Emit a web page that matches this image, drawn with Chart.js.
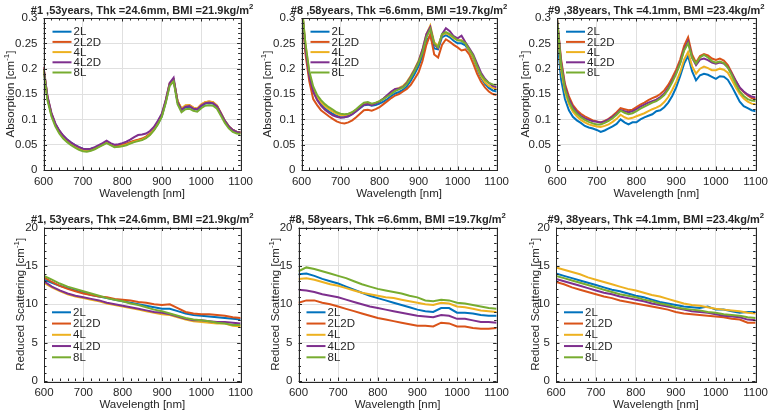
<!DOCTYPE html>
<html>
<head>
<meta charset="utf-8">
<script src="https://cdn.jsdelivr.net/npm/chart.js@4.4.0/dist/chart.umd.min.js"></script>
<style>
  html, body { margin: 0; padding: 0; background: #fff; }
  #wrap { position: relative; width: 773px; height: 413px; overflow: hidden; }
  #wrap canvas { position: absolute; }
</style>
</head>
<body>
<div id="wrap"></div>
<script>
// wavelengths (nm)
const wlAbs = [600,610,620,630,640,650,660,670,680,690,700,710,720,730,740,750,760,770,780,790,
  800,810,820,830,840,850,860,870,880,890,900,910,920,930,940,950,960,970,980,990,
  1000,1010,1020,1030,1040,1050,1060,1070,1080,1090,1100];
const wlSca = [600,620,640,660,680,700,720,740,760,780,800,820,840,860,880,900,920,940,960,980,
  1000,1020,1040,1060,1080,1100];

const seriesNames = ["2L", "2L2D", "4L", "4L2D", "8L"];

// tick values / labels
const wlTicks = [600, 700, 800, 900, 1000, 1100];
const wlTickLabels = ["600", "700", "800", "900", "1000", "1100"];
const absTicks = [0, 0.05, 0.1, 0.15, 0.2, 0.25, 0.3];
const absTickLabels = ["0", "0.05", "0.1", "0.15", "0.2", "0.25", "0.3"];
const scaTicks = [0, 5, 10, 15, 20];
const scaTickLabels = ["0", "5", "10", "15", "20"];

const panelTitles = [
  "#1 ,53years, Thk =24.6mm, BMI =21.9kg/m",
  "#8 ,58years, Thk =6.6mm, BMI =19.7kg/m",
  "#9 ,38years, Thk =4.1mm, BMI =23.4kg/m",
  "#1, 53years, Thk =24.6mm, BMI =21.9kg/m",
  "#8, 58years, Thk =6.6mm, BMI =19.7kg/m",
  "#9, 38years, Thk =4.1mm, BMI =23.4kg/m"
];

// ---- absorption, #1 ----
const abs1_2L = [0.200,0.142,0.110,0.090,0.077,0.067,0.060,0.054,0.049,0.045,
  0.042,0.041,0.042,0.044,0.047,0.051,0.056,0.051,0.048,0.048,
  0.050,0.052,0.055,0.057,0.059,0.061,0.065,0.071,0.079,0.091,
  0.106,0.134,0.168,0.177,0.134,0.118,0.124,0.125,0.121,0.119,
  0.126,0.131,0.132,0.131,0.125,0.111,0.097,0.086,0.079,0.075,0.074];
const abs1_2L2D = [0.202,0.144,0.112,0.091,0.077,0.067,0.059,0.053,0.048,0.044,
  0.041,0.040,0.041,0.043,0.047,0.051,0.056,0.051,0.047,0.048,
  0.050,0.052,0.055,0.058,0.060,0.062,0.066,0.072,0.080,0.093,
  0.108,0.136,0.170,0.178,0.136,0.121,0.127,0.128,0.123,0.121,
  0.129,0.134,0.135,0.134,0.127,0.112,0.097,0.086,0.079,0.075,0.074];
const abs1_4L = [0.203,0.143,0.110,0.089,0.075,0.065,0.058,0.052,0.047,0.043,
  0.039,0.038,0.039,0.042,0.046,0.050,0.055,0.050,0.046,0.046,
  0.048,0.050,0.053,0.056,0.058,0.060,0.064,0.070,0.079,0.092,
  0.108,0.136,0.171,0.178,0.137,0.121,0.128,0.128,0.123,0.121,
  0.129,0.134,0.135,0.134,0.127,0.112,0.097,0.086,0.079,0.075,0.074];
const abs1_4L2D = [0.204,0.146,0.113,0.092,0.078,0.068,0.060,0.054,0.049,0.045,
  0.042,0.041,0.042,0.045,0.049,0.053,0.058,0.053,0.050,0.051,
  0.053,0.056,0.060,0.065,0.069,0.070,0.072,0.077,0.085,0.097,
  0.111,0.138,0.172,0.182,0.135,0.119,0.125,0.126,0.121,0.120,
  0.127,0.132,0.133,0.132,0.126,0.112,0.097,0.086,0.079,0.075,0.074];
const abs1_8L = [0.198,0.138,0.106,0.086,0.072,0.062,0.055,0.049,0.044,0.040,
  0.037,0.036,0.038,0.041,0.045,0.049,0.053,0.049,0.045,0.046,
  0.047,0.049,0.052,0.055,0.057,0.059,0.063,0.069,0.078,0.090,
  0.105,0.132,0.166,0.175,0.130,0.114,0.120,0.121,0.117,0.115,
  0.122,0.127,0.128,0.127,0.121,0.107,0.093,0.082,0.075,0.072,0.071];

// ---- absorption, #8 ----
const abs8_2L = [0.330,0.240,0.185,0.155,0.140,0.130,0.122,0.116,0.111,0.107,
  0.104,0.104,0.106,0.110,0.116,0.122,0.128,0.129,0.127,0.128,
  0.131,0.135,0.140,0.146,0.151,0.154,0.158,0.165,0.176,0.190,
  0.205,0.225,0.255,0.265,0.240,0.238,0.262,0.266,0.262,0.255,
  0.250,0.250,0.246,0.235,0.220,0.200,0.182,0.170,0.162,0.157,0.155];
const abs8_2L2D = [0.330,0.230,0.175,0.140,0.128,0.118,0.112,0.106,0.101,0.096,
  0.093,0.092,0.094,0.098,0.104,0.111,0.118,0.119,0.117,0.120,
  0.124,0.130,0.136,0.142,0.147,0.150,0.155,0.160,0.168,0.180,
  0.193,0.215,0.247,0.268,0.228,0.222,0.247,0.258,0.253,0.247,
  0.242,0.236,0.238,0.228,0.210,0.190,0.174,0.163,0.155,0.150,0.148];
const abs8_4L = [0.330,0.250,0.190,0.160,0.145,0.134,0.126,0.120,0.115,0.111,
  0.108,0.108,0.110,0.114,0.119,0.125,0.130,0.131,0.129,0.132,
  0.136,0.141,0.147,0.153,0.159,0.162,0.166,0.174,0.186,0.200,
  0.216,0.237,0.268,0.285,0.252,0.245,0.266,0.270,0.266,0.260,
  0.256,0.256,0.250,0.236,0.222,0.203,0.185,0.173,0.166,0.162,0.160];
const abs8_4L2D = [0.330,0.240,0.185,0.155,0.138,0.127,0.119,0.113,0.108,0.105,
  0.103,0.104,0.106,0.110,0.116,0.123,0.129,0.130,0.128,0.131,
  0.135,0.141,0.148,0.155,0.160,0.161,0.164,0.172,0.184,0.198,
  0.214,0.238,0.268,0.282,0.248,0.240,0.268,0.280,0.274,0.264,
  0.260,0.265,0.252,0.240,0.228,0.210,0.192,0.180,0.172,0.166,0.163];
const abs8_8L = [0.330,0.250,0.195,0.165,0.148,0.138,0.130,0.124,0.119,0.114,
  0.111,0.110,0.111,0.114,0.120,0.127,0.133,0.134,0.131,0.133,
  0.136,0.140,0.145,0.150,0.156,0.159,0.163,0.170,0.182,0.196,
  0.212,0.232,0.262,0.278,0.250,0.242,0.268,0.272,0.268,0.262,
  0.256,0.255,0.250,0.238,0.225,0.205,0.188,0.178,0.172,0.169,0.168];

// ---- absorption, #9 ----
const abs9_2L = [0.270,0.180,0.140,0.118,0.105,0.098,0.093,0.087,0.084,0.082,
  0.079,0.075,0.078,0.082,0.086,0.091,0.100,0.094,0.090,0.094,
  0.094,0.100,0.104,0.107,0.110,0.116,0.118,0.124,0.133,0.146,
  0.163,0.185,0.210,0.225,0.195,0.177,0.187,0.190,0.188,0.184,
  0.180,0.185,0.184,0.178,0.165,0.150,0.135,0.126,0.122,0.118,0.116];
const abs9_2L2D = [0.300,0.220,0.170,0.145,0.128,0.118,0.111,0.106,0.102,0.098,
  0.096,0.094,0.097,0.101,0.107,0.114,0.122,0.120,0.118,0.119,
  0.124,0.129,0.133,0.138,0.142,0.145,0.150,0.157,0.168,0.182,
  0.198,0.218,0.245,0.262,0.228,0.212,0.225,0.229,0.226,0.220,
  0.217,0.220,0.216,0.207,0.192,0.176,0.162,0.154,0.147,0.142,0.140];
const abs9_4L = [0.290,0.200,0.155,0.130,0.115,0.106,0.099,0.094,0.090,0.088,
  0.086,0.085,0.087,0.090,0.095,0.101,0.109,0.104,0.101,0.103,
  0.106,0.109,0.112,0.116,0.120,0.123,0.127,0.134,0.144,0.158,
  0.174,0.193,0.218,0.233,0.205,0.190,0.200,0.204,0.201,0.197,
  0.197,0.200,0.198,0.192,0.178,0.163,0.150,0.141,0.135,0.131,0.130];
const abs9_4L2D = [0.300,0.215,0.165,0.140,0.124,0.114,0.107,0.102,0.099,0.096,
  0.095,0.094,0.096,0.100,0.105,0.111,0.118,0.116,0.114,0.116,
  0.120,0.125,0.129,0.133,0.136,0.139,0.144,0.151,0.162,0.176,
  0.192,0.212,0.238,0.254,0.222,0.207,0.218,0.220,0.217,0.212,
  0.210,0.212,0.210,0.203,0.190,0.176,0.163,0.155,0.149,0.145,0.143];
const abs9_8L = [0.300,0.210,0.160,0.135,0.120,0.111,0.104,0.099,0.095,0.092,
  0.090,0.090,0.093,0.097,0.102,0.109,0.117,0.113,0.110,0.112,
  0.116,0.121,0.125,0.129,0.133,0.136,0.141,0.148,0.159,0.173,
  0.190,0.210,0.236,0.250,0.222,0.210,0.222,0.227,0.222,0.215,
  0.212,0.214,0.211,0.202,0.187,0.170,0.155,0.146,0.140,0.137,0.136];

// ---- reduced scattering, #1 ----
const sca1_2L   = [13.2,12.8,12.4,12.1,11.8,11.5,11.2,11.0,10.8,10.6,10.4,10.2,10.0,9.8,9.6,9.4,9.4,9.1,8.8,8.6,8.5,8.4,8.3,8.2,8.1,8.0];
const sca1_2L2D = [13.5,12.9,12.4,12.0,11.7,11.4,11.2,11.0,10.9,10.7,10.6,10.5,10.3,10.2,10.0,9.9,10.0,9.5,9.0,8.8,8.7,8.7,8.6,8.5,8.3,8.2];
const sca1_4L   = [12.8,12.2,11.7,11.3,11.0,10.8,10.6,10.4,10.1,9.9,9.7,9.5,9.3,9.1,8.9,8.7,8.6,8.3,8.0,7.8,7.7,7.6,7.5,7.5,7.2,7.1];
const sca1_4L2D = [13.0,12.3,11.8,11.4,11.1,10.9,10.7,10.5,10.2,10.0,9.8,9.6,9.4,9.2,9.0,8.9,8.7,8.4,8.1,7.9,7.9,7.8,7.7,7.7,7.6,7.5];
const sca1_8L   = [13.7,13.2,12.7,12.3,12.0,11.7,11.4,11.1,10.8,10.6,10.4,10.1,9.9,9.6,9.3,9.1,8.8,8.5,8.2,8.0,7.9,7.8,7.6,7.5,7.3,7.3];

// ---- reduced scattering, #8 ----
const sca8_2L   = [13.9,14.0,13.7,13.3,13.0,12.7,12.3,11.9,11.5,11.1,10.8,10.5,10.2,9.9,9.6,9.3,9.1,9.0,9.5,9.5,8.9,8.9,8.8,8.6,8.5,8.5];
const sca8_2L2D = [10.2,10.5,10.5,10.2,10.0,9.7,9.4,9.1,8.8,8.5,8.2,8.0,7.8,7.6,7.4,7.2,7.2,7.1,7.6,7.5,7.1,7.1,6.9,6.8,6.8,6.9];
const sca8_4L   = [13.3,13.4,13.2,12.9,12.6,12.4,12.1,11.8,11.5,11.3,11.1,10.9,10.8,10.6,10.4,10.2,10.0,9.9,10.2,10.1,9.7,9.6,9.4,9.2,9.1,9.0];
const sca8_4L2D = [11.9,11.8,11.6,11.3,11.1,10.9,10.6,10.3,10.0,9.7,9.5,9.3,9.1,8.9,8.7,8.5,8.4,8.3,8.6,8.5,8.1,8.1,7.9,7.7,7.7,7.6];
const sca8_8L   = [14.3,14.8,14.6,14.3,14.0,13.7,13.4,13.0,12.6,12.3,12.0,11.8,11.6,11.4,11.1,10.9,10.5,10.4,10.6,10.5,10.2,10.1,9.9,9.7,9.5,9.4];

// ---- reduced scattering, #9 ----
const sca9_2L   = [14.0,13.7,13.4,13.1,12.8,12.5,12.2,11.9,11.7,11.4,11.1,10.9,10.6,10.3,10.1,9.9,9.7,9.6,9.5,9.7,9.3,9.3,9.1,8.9,9.0,9.0];
const sca9_2L2D = [12.9,12.6,12.2,11.9,11.6,11.3,11.0,10.8,10.5,10.3,10.1,9.9,9.7,9.5,9.3,9.0,8.8,8.7,8.6,8.5,8.4,8.3,8.1,8.0,7.6,7.6];
const sca9_4L   = [14.8,14.5,14.2,13.9,13.5,13.2,12.9,12.6,12.3,12.0,11.8,11.5,11.2,11.0,10.7,10.4,10.1,9.9,9.8,9.6,9.4,9.3,9.2,9.1,8.9,8.8];
const sca9_4L2D = [13.3,13.0,12.7,12.4,12.1,11.8,11.5,11.3,11.0,10.8,10.6,10.4,10.1,9.9,9.7,9.5,9.3,9.1,9.0,8.9,8.7,8.5,8.4,8.3,8.0,7.9];
const sca9_8L   = [13.7,13.4,13.1,12.8,12.5,12.2,11.9,11.6,11.3,11.1,10.9,10.6,10.4,10.1,9.9,9.6,9.4,9.3,9.2,9.0,8.9,8.7,8.6,8.5,8.3,8.2];

const panelSeries = [
  [abs1_2L, abs1_2L2D, abs1_4L, abs1_4L2D, abs1_8L],
  [abs8_2L, abs8_2L2D, abs8_4L, abs8_4L2D, abs8_8L],
  [abs9_2L, abs9_2L2D, abs9_4L, abs9_4L2D, abs9_8L],
  [sca1_2L, sca1_2L2D, sca1_4L, sca1_4L2D, sca1_8L],
  [sca8_2L, sca8_2L2D, sca8_4L, sca8_4L2D, sca8_8L],
  [sca9_2L, sca9_2L2D, sca9_4L, sca9_4L2D, sca9_8L]
];

// MATLAB default line colours
const seriesColors = ["#0072BD", "#D95319", "#EDB120", "#7E2F8E", "#77AC30"];
const FONT = '"Liberation Sans", Arial, Helvetica, sans-serif';
const INK = "#262626";

// canvas box and plot area (page pixels) for each panel
const layout = [
  { box: [0, 0, 258, 203],   area: [43.5, 18, 244.5, 170],  ytx: 9.5 },
  { box: [258, 0, 256, 203], area: [301.5, 18, 501.5, 170], ytx: 266.5 },
  { box: [514, 0, 259, 203], area: [557, 18, 756.5, 170],   ytx: 525 },
  { box: [0, 203, 258, 210],   area: [44, 227.5, 245, 381],   ytx: 20 },
  { box: [258, 203, 256, 210], area: [298.5, 227.5, 498.5, 381], ytx: 274.5 },
  { box: [514, 203, 259, 210], area: [556, 227.5, 756.5, 381],   ytx: 535 }
];

// draws text with superscript pieces, centred on x, baseline y
function richText(ctx, parts, x, y, size, bold){
  const fontOf = s => (bold ? "bold " : "") + s + "px " + FONT;
  let w = 0;
  parts.forEach(([t, sup]) => { ctx.font = fontOf(sup ? size * 0.7 : size); w += ctx.measureText(t).width; });
  let cx = x - w / 2;
  parts.forEach(([t, sup]) => {
    ctx.font = fontOf(sup ? size * 0.7 : size);
    ctx.fillText(t, cx, sup ? y - size * 0.42 : y);
    cx += ctx.measureText(t).width;
  });
}

const matlabFrame = {
  id: "frame",
  afterDraw(chart, args, o){
    const { ctx, chartArea: a, scales } = chart;
    const x = scales.x, y = scales.y;
    ctx.save();
    ctx.strokeStyle = INK;
    ctx.lineWidth = 1;

    // inward ticks on all four sides
    ctx.beginPath();
    for(let v = 600; v <= 1100; v += 20){
      const px = Math.round(x.getPixelForValue(v)) + 0.5;
      const len = v % 100 === 0 ? 3.5 : 2.5;
      ctx.moveTo(px, a.bottom); ctx.lineTo(px, a.bottom - len);
      ctx.moveTo(px, a.top); ctx.lineTo(px, a.top + len);
    }
    const n = Math.round(o.yMax / o.yMinor);
    for(let k = 0; k <= n; k++){
      const v = k * o.yMinor;
      const py = Math.round(y.getPixelForValue(v)) + 0.5;
      const len = k % o.yPer === 0 ? 3.5 : 2.5;
      ctx.moveTo(a.left, py); ctx.lineTo(a.left + len, py);
      ctx.moveTo(a.right, py); ctx.lineTo(a.right - len, py);
    }
    ctx.stroke();
    ctx.strokeRect(Math.round(a.left) + 0.5, Math.round(a.top) + 0.5,
      Math.round(a.right - a.left), Math.round(a.bottom - a.top));

    // legend inside the axes
    ctx.textBaseline = "middle";
    ctx.textAlign = "left";
    ctx.font = "11.5px " + FONT;
    chart.data.datasets.forEach((ds, k) => {
      const ly = a.top + o.legTop + k * o.legDy;
      ctx.strokeStyle = ds.borderColor;
      ctx.lineWidth = 2;
      ctx.beginPath();
      ctx.moveTo(a.left + o.lx0, ly); ctx.lineTo(a.left + o.lx1, ly);
      ctx.stroke();
      ctx.fillStyle = INK;
      ctx.fillText(ds.label, a.left + o.tx, ly + 0.5);
    });

    // title and axis labels
    ctx.textBaseline = "alphabetic";
    ctx.fillStyle = INK;
    const cx = (a.left + a.right) / 2;
    richText(ctx, [[o.title, false], ["2", true]], cx, a.top - 4.5, 11, true);
    richText(ctx, [["Wavelength [nm]", false]], cx, a.bottom + 27, 11.5, false);
    ctx.translate(o.ytx, (a.top + a.bottom) / 2);
    ctx.rotate(-Math.PI / 2);
    richText(ctx, [[o.yTitle + " [cm", false], ["-1", true], ["]", false]], 0, 4, 11.5, false);
    ctx.restore();
  }
};

function makePanel(i){
  const isAbs = i < 3;
  const [bx, by, bw, bh] = layout[i].box;
  const [l, t, r, b] = layout[i].area;
  const canvas = document.createElement("canvas");
  canvas.width = bw; canvas.height = bh;
  canvas.style.left = bx + "px"; canvas.style.top = by + "px";
  canvas.style.width = bw + "px"; canvas.style.height = bh + "px";
  document.getElementById("wrap").appendChild(canvas);

  const wl = isAbs ? wlAbs : wlSca;
  const yTicks = isAbs ? absTicks : scaTicks;
  const yLabels = isAbs ? absTickLabels : scaTickLabels;

  const datasets = panelSeries[i].map((vals, k) => ({
    label: seriesNames[k],
    data: vals.map((v, j) => ({ x: wl[j], y: v })),
    borderColor: seriesColors[k],
    borderWidth: 2,
    pointRadius: 0,
    tension: 0,
    fill: false,
    order: 5 - k
  }));

  const tickFont = { family: FONT, size: 11.5 };

  new Chart(canvas, {
    type: "line",
    data: { datasets },
    options: {
      responsive: false,
      animation: false,
      devicePixelRatio: 1,
      layout: { autoPadding: false, padding: { left: 0, top: t - by, right: bx + bw - r, bottom: 0 } },
      plugins: {
        legend: { display: false },
        tooltip: { enabled: false },
        frame: {
          title: panelTitles[i],
          yTitle: isAbs ? "Absorption" : "Reduced Scattering",
          ytx: layout[i].ytx - bx,
          yMax: isAbs ? 0.3 : 20,
          yMinor: isAbs ? 0.01 : 1,
          yPer: 5,
          legTop: isAbs ? 13.7 : 84.8,
          legDy: isAbs ? 10.2 : 11.25,
          lx0: isAbs ? 9 : 8,
          lx1: isAbs ? 28 : 27,
          tx: isAbs ? 30 : 29
        }
      },
      scales: {
        x: {
          type: "linear", min: 600, max: 1100,
          afterBuildTicks: s => { s.ticks = wlTicks.map(v => ({ value: v })); },
          afterFit: s => { s.height = by + bh - b; },
          ticks: { autoSkip: false, maxRotation: 0, padding: 5, color: INK, font: tickFont,
                   callback: (v, j) => wlTickLabels[j] },
          grid: { color: "#e0e0e0", drawTicks: false },
          border: { display: false }
        },
        y: {
          type: "linear", min: 0, max: isAbs ? 0.3 : 20,
          afterBuildTicks: s => { s.ticks = yTicks.map(v => ({ value: v })); },
          afterFit: s => { s.width = l - bx; },
          ticks: { autoSkip: false, padding: 6, color: INK, font: tickFont,
                   callback: (v, j) => yLabels[j] },
          grid: { color: "#e0e0e0", drawTicks: false },
          border: { display: false }
        }
      }
    },
    plugins: [matlabFrame]
  });
}

for(let i = 0; i < 6; i++) makePanel(i);
</script>
</body>
</html>
